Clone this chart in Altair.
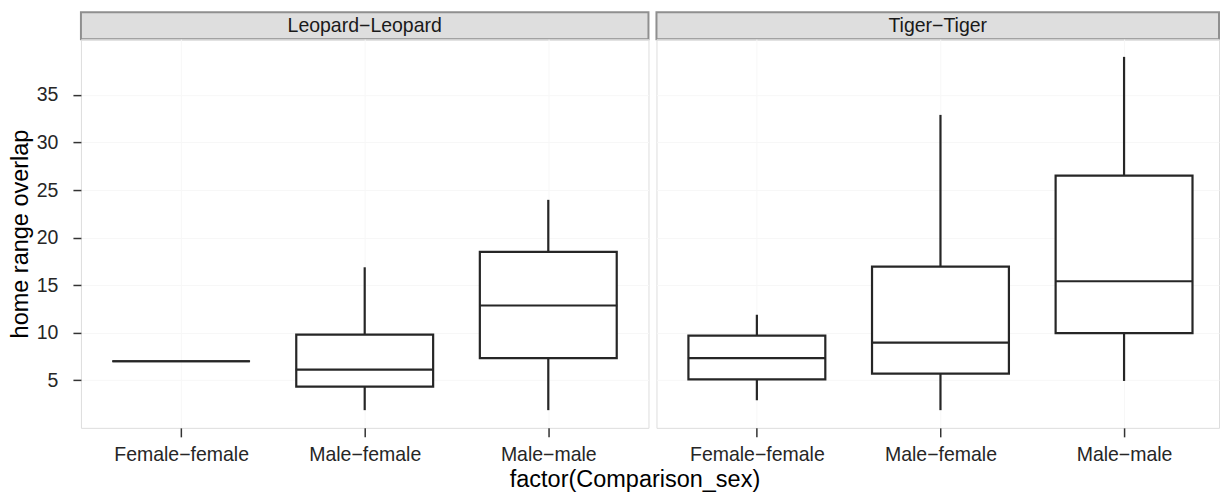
import altair as alt
import pandas as pd

categories = ["Female−female", "Male−female", "Male−male"]
panel_names = ["Leopard−Leopard", "Tiger−Tiger"]

leopard_lower = [7.0, 1.86, 1.86]
leopard_q1 = [7.0, 4.34, 7.34]
leopard_median = [7.0, 6.12, 12.86]
leopard_q3 = [7.0, 9.79, 18.49]
leopard_upper = [7.0, 16.88, 23.97]

tiger_lower = [2.9, 1.86, 4.93]
tiger_q1 = [5.1, 5.7, 9.96]
tiger_median = [7.34, 8.95, 15.41]
tiger_q3 = [9.69, 16.95, 26.52]
tiger_upper = [11.89, 32.9, 39.0]

y_ticks = [5, 10, 15, 20, 25, 30, 35]
y_domain = [0.0, 40.86]

BOX = "#262626"
BORDER = "#8f8f8f"
FONT = "Liberation Sans"
TEXT_SIZE = 19.5
TITLE_SIZE = 23.5


def frame(lower, q1, med, q3, upper):
    return pd.DataFrame({"cat": categories, "lower": lower, "q1": q1,
                         "median": med, "q3": q3, "upper": upper})


def panel(df, width, pad, align, left):
    xs = alt.Scale(type="point", domain=categories, padding=pad, align=align, round=False)
    ys = alt.Scale(domain=y_domain, nice=False, zero=False)
    x_axis = alt.Axis(
        labelFontSize=TEXT_SIZE, labelColor="#262626", labelPadding=9, labelFont=FONT, labelAngle=0,
        tickSize=9, tickColor="#333333", tickWidth=1.5, domain=False,
        grid=True, gridColor="#F7F7F7", gridWidth=1,
        title="factor(Comparison_sex)" if left else "",
        titleFontSize=TITLE_SIZE, titleFontWeight="normal", titleColor="#000000", titleFont=FONT,
        titlePadding=3, titleX=554,
    )
    if left:
        y_axis = alt.Axis(
            values=y_ticks, labelFontSize=TEXT_SIZE, labelColor="#262626", labelPadding=15,
            labelFont=FONT, tickSize=8, tickColor="#333333", tickWidth=1.5, domain=False,
            grid=True, gridColor="#F7F7F7", gridWidth=1,
            title="home range overlap", titleFontSize=TITLE_SIZE, titleFontWeight="normal",
            titleColor="#000000", titleFont=FONT, titlePadding=4,
        )
    else:
        y_axis = alt.Axis(values=y_ticks, labels=False, ticks=False, domain=False,
                          grid=True, gridColor="#F7F7F7", gridWidth=1, title="")
    base = alt.Chart(df).encode(x=alt.X("cat:N", scale=xs, axis=x_axis))
    low = base.mark_rule(color=BOX, strokeWidth=2.2).encode(
        y=alt.Y("lower:Q", scale=ys, axis=y_axis), y2="q1:Q")
    high = base.mark_rule(color=BOX, strokeWidth=2.2).encode(
        y=alt.Y("q3:Q", scale=ys), y2="upper:Q")
    box = base.mark_bar(size=137, fill="white", stroke=BOX, strokeWidth=2.2, opacity=1).encode(
        y=alt.Y("q1:Q", scale=ys), y2="q3:Q")
    med = base.mark_tick(size=138, thickness=2.2, color=BOX, opacity=1).encode(
        y=alt.Y("median:Q", scale=ys))
    return alt.layer(low, high, box, med).properties(width=width, height=389)


def strip(name, width):
    return alt.Chart(pd.DataFrame({"label": [name]})).mark_text(
        fontSize=TEXT_SIZE, color="#1a1a1a", font=FONT, baseline="middle"
    ).encode(text="label:N").properties(
        width=width, height=27,
        view=alt.ViewBackground(fill="#DEDEDE", stroke=BORDER, strokeWidth=2),
    )


leo = frame(leopard_lower, leopard_q1, leopard_median, leopard_q3, leopard_upper)
tig = frame(tiger_lower, tiger_q1, tiger_median, tiger_q3, tiger_upper)

W_L = 568
W_R = 563

chart = alt.concat(
    strip(panel_names[0], W_L),
    strip(panel_names[1], W_R),
    panel(leo, W_L, 0.5457, 0.5, True),
    panel(tig, W_R, 0.532, 0.514, False),
    columns=2,
    spacing={"row": 0, "column": 8},
    align="each",
    bounds="flush",
).properties(
    padding={"left": 7, "top": 11, "right": 0, "bottom": 0},
).configure_view(
    stroke=BORDER, strokeWidth=2, fill="white"
).configure(font=FONT)

chart.save("out.html", embed_options={"renderer": "svg", "actions": False})
